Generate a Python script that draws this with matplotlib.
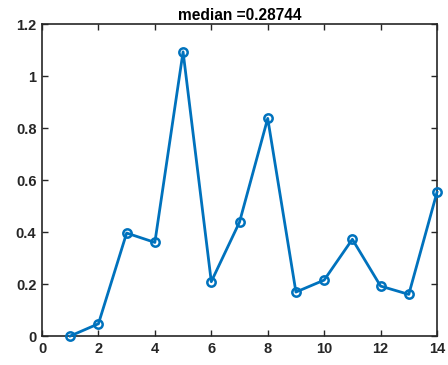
import matplotlib
matplotlib.use('Agg')
import matplotlib.pyplot as plt
import numpy as np

# dados
x = [1, 2, 3, 4, 5, 6, 7, 8, 9, 10, 11, 12, 13, 14]
y = [0.0, 0.047, 0.396, 0.35988, 1.093, 0.209, 0.438, 0.837,
     0.169, 0.2150, 0.372, 0.192, 0.160, 0.553]
xticks = [0, 2, 4, 6, 8, 10, 12, 14]
yticks = [0, 0.2, 0.4, 0.6, 0.8, 1.0, 1.2]
ytick_labels = ['0', '0.2', '0.4', '0.6', '0.8', '1', '1.2']

plt.rcParams['font.family'] = ['Liberation Sans', 'DejaVu Sans']

fig = plt.figure(figsize=(4.48, 3.65), dpi=100)
ax = fig.add_axes([42 / 448, 29 / 365, 395 / 448, 312 / 365])

ax.plot(x, y, '-o', color='#0072BD', linewidth=2, markersize=6,
        markerfacecolor='none', markeredgewidth=1.8, clip_on=False, zorder=3)

ax.set_xlim(0, 14)
ax.set_ylim(0, 1.2)
ax.set_xticks(xticks)
ax.set_yticks(yticks)
ax.set_yticklabels(ytick_labels)

# estilo parecido com MATLAB
for s in ax.spines.values():
    s.set_color('#262626')
    s.set_linewidth(1.2)
ax.tick_params(direction='in', top=True, right=True, length=4, width=1,
               colors='#262626', labelsize=10.5, pad=4)
for lbl in ax.get_xticklabels() + ax.get_yticklabels():
    lbl.set_fontweight('bold')

med = np.median(y)
ax.set_title('median =%.5g' % med, fontsize=11.2, fontweight='bold', pad=3)

fig.savefig('out.png', dpi=100)
